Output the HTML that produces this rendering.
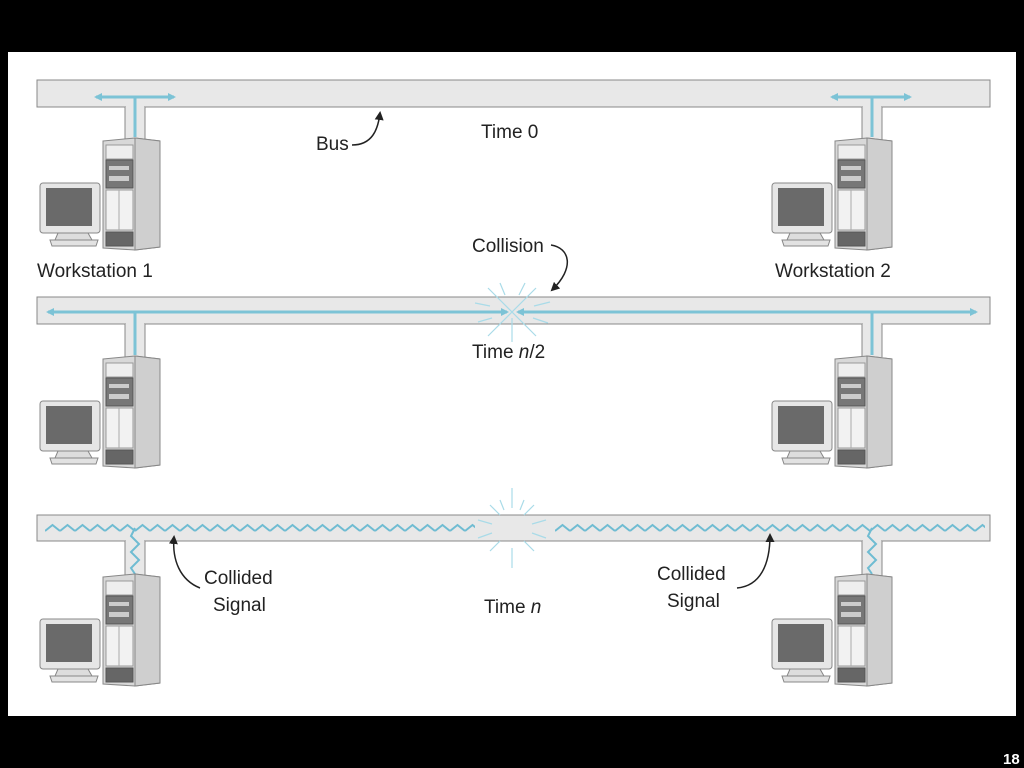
<!DOCTYPE html>
<html><head><meta charset="utf-8"><style>
html,body{margin:0;padding:0;background:#000;width:1024px;height:768px;overflow:hidden}
svg{display:block}
text{font-family:"Liberation Sans",sans-serif;font-size:19px;fill:#222}
</style></head><body>
<svg width="1024" height="768" viewBox="0 0 1024 768">
<defs>
<marker id="ah" markerWidth="8" markerHeight="8" refX="6" refY="4" orient="auto" markerUnits="userSpaceOnUse"><path d="M0,0 L8,4 L0,8 Z" fill="#7cc3d6"/></marker>
<marker id="ak" markerWidth="9" markerHeight="9" refX="7" refY="4.5" orient="auto" markerUnits="userSpaceOnUse"><path d="M0,0 L9,4.5 L0,9 Z" fill="#222"/></marker>
<pattern id="zz" width="15" height="12" patternUnits="userSpaceOnUse" x="0" y="522"><path d="M0,9 L7.5,3 L15,9" stroke="#6fbcd2" stroke-width="2" fill="none"/></pattern>
<g id="ws">
  <!-- monitor -->
  <rect x="40" y="183" width="60" height="50" rx="3" fill="#e6e6e6" stroke="#888"/>
  <rect x="46" y="188" width="46" height="38" fill="#6a6a6a"/>
  <path d="M58 233 L88 233 L92 240 L55 240 Z" fill="#ddd" stroke="#888"/>
  <path d="M50 240 L98 240 L96 246 L52 246 Z" fill="#e2e2e2" stroke="#888"/>
  <!-- tower -->
  <path d="M103 141 L135 138 L160 141 L160 247 L135 250 L103 248 Z" fill="#d8d8d8" stroke="#888"/>
  <path d="M135 138 L160 141 L160 247 L135 250 Z" fill="#cfcfcf" stroke="#888"/>
  <rect x="106" y="145" width="27" height="14" fill="#eee" stroke="#999"/>
  <rect x="106" y="160" width="27" height="28" fill="#777" stroke="#555"/>
  <rect x="109" y="166" width="20" height="4" fill="#ccc"/>
  <rect x="109" y="176" width="20" height="5" fill="#ccc"/>
  <rect x="106" y="190" width="27" height="40" fill="#f2f2f2" stroke="#999"/>
  <line x1="119" y1="190" x2="119" y2="230" stroke="#aaa"/>
  <rect x="106" y="232" width="27" height="14" fill="#666" stroke="#555"/>
</g>
</defs>
<rect x="8" y="52" width="1008" height="664" fill="#fff"/>
<text x="1003" y="764" style="fill:#fff;font-size:15px;font-weight:bold">18</text>

<!-- BUS 1 -->
<rect x="37" y="80" width="953" height="27" fill="#e8e8e8" stroke="#888"/>
<rect x="125" y="107" width="20" height="33" fill="#e8e8e8"/><line x1="125" y1="107" x2="125" y2="140" stroke="#888"/><line x1="145" y1="107" x2="145" y2="140" stroke="#888"/>
<rect x="126" y="106" width="18" height="3" fill="#e8e8e8"/>
<rect x="862" y="107" width="20" height="33" fill="#e8e8e8"/><line x1="862" y1="107" x2="862" y2="140" stroke="#888"/><line x1="882" y1="107" x2="882" y2="140" stroke="#888"/>
<rect x="863" y="106" width="18" height="3" fill="#e8e8e8"/>
<g stroke="#7cc3d6" stroke-width="3" fill="none">
<line x1="135" y1="137" x2="135" y2="97"/><line x1="135" y1="97" x2="96" y2="97" marker-end="url(#ah)"/><line x1="135" y1="97" x2="174" y2="97" marker-end="url(#ah)"/>
<line x1="872" y1="137" x2="872" y2="97"/><line x1="872" y1="97" x2="832" y2="97" marker-end="url(#ah)"/><line x1="872" y1="97" x2="910" y2="97" marker-end="url(#ah)"/>
</g>
<use href="#ws"/>
<use href="#ws" x="732"/>
<text x="316" y="150">Bus</text>
<path d="M352 145 C372 145 378 130 380 113" stroke="#222" stroke-width="1.5" fill="none" marker-end="url(#ak)"/>
<text x="481" y="138">Time 0</text>
<text x="37" y="277">Workstation 1</text>
<text x="775" y="277">Workstation 2</text>

<!-- BUS 2 -->
<rect x="37" y="297" width="953" height="27" fill="#e8e8e8" stroke="#888"/>
<rect x="125" y="324" width="20" height="33" fill="#e8e8e8"/><line x1="125" y1="324" x2="125" y2="357" stroke="#888"/><line x1="145" y1="324" x2="145" y2="357" stroke="#888"/>
<rect x="126" y="323" width="18" height="3" fill="#e8e8e8"/>
<rect x="862" y="324" width="20" height="33" fill="#e8e8e8"/><line x1="862" y1="324" x2="862" y2="357" stroke="#888"/><line x1="882" y1="324" x2="882" y2="357" stroke="#888"/>
<rect x="863" y="323" width="18" height="3" fill="#e8e8e8"/>
<g stroke="#7cc3d6" stroke-width="3" fill="none">
<line x1="135" y1="355" x2="135" y2="312"/><line x1="135" y1="312" x2="48" y2="312" marker-end="url(#ah)"/><line x1="135" y1="312" x2="507" y2="312" marker-end="url(#ah)"/>
<line x1="872" y1="355" x2="872" y2="312"/><line x1="872" y1="312" x2="518" y2="312" marker-end="url(#ah)"/><line x1="872" y1="312" x2="976" y2="312" marker-end="url(#ah)"/>
</g>
<g stroke="#a9dbe8" stroke-width="1.2">
<line x1="488" y1="288" x2="536" y2="336"/><line x1="536" y1="288" x2="488" y2="336"/>
<line x1="512" y1="318" x2="512" y2="342"/><line x1="475" y1="303" x2="490" y2="306"/><line x1="534" y1="306" x2="550" y2="302"/>
<line x1="478" y1="322" x2="492" y2="318"/><line x1="533" y1="318" x2="548" y2="323"/>
<line x1="500" y1="283" x2="505" y2="295"/><line x1="525" y1="283" x2="519" y2="295"/>
</g>
<use href="#ws" y="218"/>
<use href="#ws" x="732" y="218"/>
<text x="472" y="252">Collision</text>
<path d="M551 245 C570 248 575 268 552 290" stroke="#222" stroke-width="1.5" fill="none" marker-end="url(#ak)"/>
<text x="472" y="358">Time <tspan font-style="italic">n</tspan>/2</text>

<!-- BUS 3 -->
<rect x="37" y="515" width="953" height="26" fill="#e8e8e8" stroke="#888"/>
<rect x="125" y="541" width="20" height="35" fill="#e8e8e8"/><line x1="125" y1="541" x2="125" y2="576" stroke="#888"/><line x1="145" y1="541" x2="145" y2="576" stroke="#888"/>
<rect x="126" y="540" width="18" height="3" fill="#e8e8e8"/>
<rect x="862" y="541" width="20" height="35" fill="#e8e8e8"/><line x1="862" y1="541" x2="862" y2="576" stroke="#888"/><line x1="882" y1="541" x2="882" y2="576" stroke="#888"/>
<rect x="863" y="540" width="18" height="3" fill="#e8e8e8"/>
<rect x="45" y="522" width="430" height="12" fill="url(#zz)"/>
<rect x="555" y="522" width="430" height="12" fill="url(#zz)"/>
<g stroke="#6fbcd2" stroke-width="2" fill="none">
<path d="M135 528 L131 536 L139 544 L131 552 L139 560 L131 568 L135 574"/>
<path d="M872 528 L868 536 L876 544 L868 552 L876 560 L868 568 L872 574"/>
</g>
<g stroke="#a9dbe8" stroke-width="1.2">
<line x1="512" y1="488" x2="512" y2="508"/><line x1="512" y1="548" x2="512" y2="568"/>
<line x1="490" y1="505" x2="500" y2="515"/><line x1="534" y1="505" x2="524" y2="515"/>
<line x1="490" y1="551" x2="500" y2="541"/><line x1="534" y1="551" x2="524" y2="541"/>
<line x1="478" y1="520" x2="492" y2="524"/><line x1="546" y1="520" x2="532" y2="524"/>
<line x1="478" y1="538" x2="492" y2="533"/><line x1="546" y1="538" x2="532" y2="533"/>
<line x1="500" y1="500" x2="504" y2="510"/><line x1="524" y1="500" x2="520" y2="510"/>
</g>
<use href="#ws" y="436"/>
<use href="#ws" x="732" y="436"/>
<path d="M200 588 C180 580 172 560 174 537" stroke="#222" stroke-width="1.5" fill="none" marker-end="url(#ak)"/>
<text x="204" y="584">Collided</text>
<text x="213" y="611">Signal</text>
<text x="484" y="613">Time <tspan font-style="italic">n</tspan></text>
<text x="657" y="580">Collided</text>
<text x="667" y="607">Signal</text>
<path d="M737 588 C760 586 770 565 770 535" stroke="#222" stroke-width="1.5" fill="none" marker-end="url(#ak)"/>
</svg>
</body></html>
